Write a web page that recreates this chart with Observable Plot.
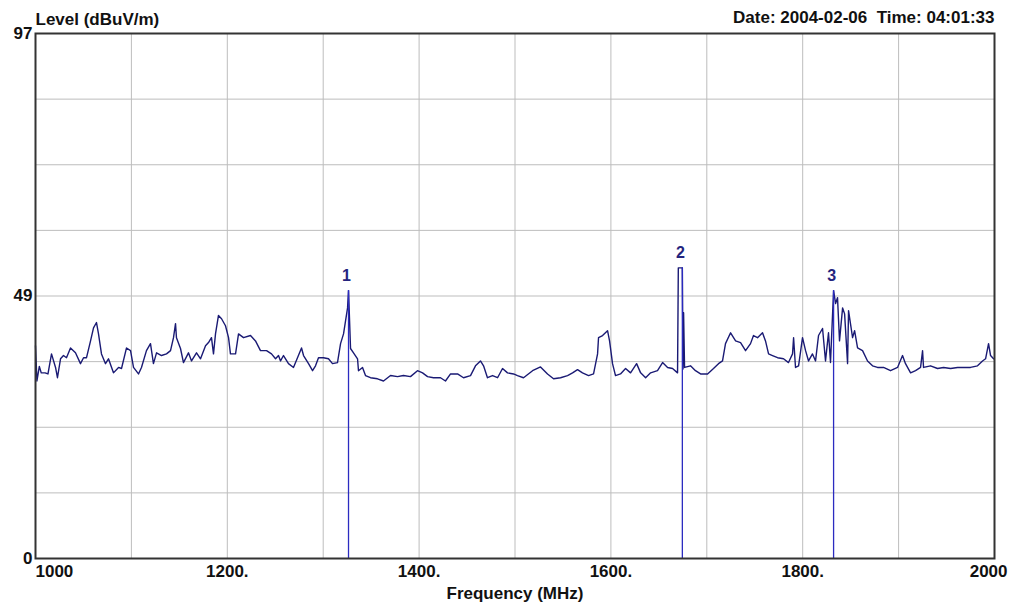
<!DOCTYPE html>
<html>
<head>
<meta charset="utf-8">
<script src="https://cdn.jsdelivr.net/npm/d3@7"></script>
<script src="https://cdn.jsdelivr.net/npm/@observablehq/plot@0.6"></script>
<style>
  html, body { margin: 0; padding: 0; background: #fff; }
  #chart svg { display: block; }
</style>
</head>
<body>
<div id="chart"></div>
<script>
// Spectrum scan trace: frequency (MHz) and measured level (dBuV/m)
const freqMHz = [
  1000, 1001.5, 1004, 1006, 1010, 1013, 1016.7, 1020.9, 1022.9, 1026.1,
  1029.2, 1032.3, 1036.5, 1041.7, 1046.9, 1050.1, 1053.2, 1057.4, 1060.5, 1063.6,
  1065.7, 1068.8, 1073.0, 1076.1, 1081.3, 1086.6, 1089.7, 1094.9, 1099.1, 1102.2,
  1107.4, 1110.5, 1115.7, 1119.9, 1123.0, 1126.2, 1131.4, 1136.6, 1140.8, 1143.9,
  1146.0, 1147.0, 1151.2, 1154.3, 1159.5, 1162.7, 1167.9, 1172.1, 1177.3, 1180.4,
  1183.5, 1185.6, 1187.7, 1190.8, 1194.0, 1198.1, 1201.3, 1203.3, 1208.6, 1211.7,
  1216.9, 1224.2, 1229.4, 1234.6, 1240.9, 1246.1, 1250.3, 1253.4, 1255.5, 1258.6,
  1263.8, 1269.0, 1273.2, 1277.4, 1279.5, 1284.7, 1288.9, 1292.0, 1295.1, 1300.3,
  1305.5, 1309.7, 1314.9, 1318.1, 1321.2, 1323.3, 1325.4, 1326.4, 1328.5, 1331.6,
  1335.8, 1336.8, 1341.0, 1344.1, 1349.3, 1356.6, 1362.9, 1370.2, 1377.5, 1383.7,
  1391.0, 1398.3, 1403.6, 1408.8, 1415.0, 1422.3, 1427.5, 1432.8, 1440.1, 1446.3,
  1453.6, 1458.8, 1464.0, 1467.2, 1471.3, 1476.6, 1481.8, 1487.0, 1492.2, 1498.5,
  1502.6, 1508.9, 1518.3, 1526.6, 1533.9, 1540.2, 1547.5, 1554.8, 1560.0, 1565.2,
  1570.4, 1576.7, 1581.9, 1586.1, 1587.1, 1591.3, 1596.5, 1598.6, 1601.7, 1604.8,
  1610.0, 1615.3, 1620.5, 1626.8, 1631.0, 1636.2, 1641.4, 1648.6, 1653.9, 1659.1,
  1664.3, 1669.5, 1670.3, 1674.5, 1675.2, 1675.8, 1676.8, 1683.0, 1688.2, 1693.5,
  1700.8, 1707.0, 1712.2, 1716.4, 1719.5, 1724.8, 1730.0, 1735.2, 1740.4, 1745.6,
  1748.7, 1752.9, 1758.1, 1761.2, 1764.4, 1768.5, 1773.8, 1780.0, 1785.2, 1789.4,
  1790.5, 1792.5, 1795.7, 1799.8, 1803.0, 1806.1, 1810.2, 1813.4, 1816.5, 1820.7,
  1823.8, 1826.9, 1829.0, 1832.2, 1834.3, 1836.3, 1838.4, 1841.6, 1843.7, 1846.8,
  1847.8, 1852.0, 1854.1, 1857.2, 1862.4, 1867.6, 1872.8, 1878.0, 1884.3, 1891.6,
  1898.9, 1904.1, 1907.2, 1912.5, 1917.7, 1922.9, 1925.0, 1926.0, 1933.3, 1940.6,
  1946.9, 1954.2, 1961.5, 1967.7, 1975.0, 1982.3, 1987.5, 1990.7, 1993.8, 1995.9,
  1999.0
];
const levelDb = [
  39.3, 32.8, 35.5, 34.3, 34.3, 34.1, 37.8, 35.3, 33.4, 36.9,
  37.5, 37.1, 38.9, 38.0, 36.0, 37.1, 37.1, 40.2, 42.6, 43.6,
  41.5, 37.8, 36.0, 36.9, 34.3, 35.3, 35.1, 38.9, 38.4, 35.3,
  34.1, 35.3, 38.4, 39.7, 36.0, 38.0, 37.5, 37.8, 38.4, 40.8,
  43.4, 40.8, 38.8, 36.2, 38.0, 36.5, 38.0, 36.9, 39.3, 39.9,
  40.8, 37.8, 41.5, 44.9, 44.3, 43.0, 40.8, 37.8, 37.8, 41.5,
  40.8, 41.2, 40.2, 38.4, 38.4, 37.8, 36.9, 37.5, 36.5, 37.5,
  36.0, 35.3, 37.1, 38.9, 37.5, 36.0, 34.7, 35.6, 37.1, 37.1,
  36.9, 36.0, 36.2, 39.7, 41.5, 43.9, 46.3, 49.5, 38.8, 38.0,
  36.9, 34.7, 35.3, 33.8, 33.4, 33.2, 32.8, 33.8, 33.6, 33.8,
  33.6, 34.7, 34.3, 33.6, 33.4, 33.4, 32.8, 34.1, 34.1, 33.4,
  33.8, 35.6, 36.5, 35.6, 33.4, 33.8, 33.4, 35.1, 34.3, 34.1,
  33.8, 33.4, 34.7, 35.4, 34.1, 33.2, 33.4, 33.8, 34.3, 34.9,
  34.3, 33.8, 34.1, 37.8, 40.8, 41.2, 42.1, 40.2, 36.0, 33.8,
  34.1, 35.1, 34.3, 36.0, 34.3, 33.4, 34.3, 34.7, 36.2, 35.3,
  35.1, 34.3, 53.7, 53.7, 35.0, 45.4, 35.3, 35.6, 34.7, 34.1,
  34.1, 35.1, 36.0, 36.5, 39.7, 41.7, 40.2, 39.9, 38.4, 39.7,
  41.2, 40.8, 41.7, 40.2, 37.8, 37.5, 37.1, 36.9, 36.2, 37.8,
  40.8, 35.3, 35.6, 40.8, 38.4, 36.5, 37.8, 36.5, 41.2, 42.5,
  36.5, 41.7, 36.2, 49.5, 47.1, 48.2, 40.2, 46.3, 45.2, 36.0,
  45.8, 40.8, 42.1, 38.9, 38.4, 36.5, 35.6, 35.3, 35.3, 34.7,
  35.3, 37.5, 36.0, 34.3, 34.7, 35.3, 38.4, 35.3, 35.6, 35.1,
  35.3, 35.1, 35.3, 35.3, 35.3, 35.6, 36.5, 36.9, 39.7, 37.5,
  36.9
];

// Numbered peak markers
const markerIds = ["1", "2", "3"];
const markerFreq = [1326.4, 1674.5, 1832.2];
const markerLevel = [49.5, 53.7, 49.5];

// Axis ticks and grid
const xTickValues = [1000, 1200, 1400, 1600, 1800, 2000];
const xTickLabels = ["1000", "1200.", "1400.", "1600.", "1800.", "2000"];
const xGridValues = [1100, 1200, 1300, 1400, 1500, 1600, 1700, 1800, 1900];
const yTickValues = [0, 48.5, 97];
const yTickLabels = ["0", "49", "97"];
const yGridValues = [12.125, 24.25, 36.375, 48.5, 60.625, 72.75, 84.875];

const titleText = "Level (dBuV/m)";
const stampText = "Date: 2004-02-06  Time: 04:01:33";
const xAxisTitle = "Frequency (MHz)";

const trace = freqMHz.map((f, i) => ({f, v: levelDb[i]}));
const markers = markerIds.map((n, i) => ({n, f: markerFreq[i], v: markerLevel[i]}));
const xLabels = xTickValues.map((t, i) => ({t, label: xTickLabels[i]}));
const yLabelOf = new Map(yTickValues.map((t, i) => [t, yTickLabels[i]]));

const gridStyle = {stroke: "#bdbdbd", strokeOpacity: 1, strokeWidth: 1};
const labelFont = {fontSize: 17, fontWeight: "bold", fill: "#111", lineAnchor: "middle"};

const chart = Plot.plot({
  width: 1011,
  height: 608,
  marginTop: 33,
  marginBottom: 50,
  marginLeft: 35,
  marginRight: 17,
  style: {
    fontFamily: "'Liberation Sans', Arial, sans-serif",
    fontWeight: "bold",
    fontSize: "17px",
    background: "#fff",
    color: "#111"
  },
  x: {domain: [1000, 2000], axis: null},
  y: {domain: [0, 97]},
  marks: [
    Plot.gridX(xGridValues, gridStyle),
    Plot.gridY(yGridValues, gridStyle),
    Plot.line(trace, {x: "f", y: "v", stroke: "#1a1a74", strokeWidth: 1.4}),
    Plot.ruleX(markers, {x: "f", y1: 0, y2: "v", stroke: "#2b2bc0", strokeWidth: 1.3}),
    Plot.text(markers, {
      x: "f", y: "v", text: "n", dy: -15, dx: -2,
      fill: "#24247e", fontSize: 16, fontWeight: "bold"
    }),
    Plot.frame({stroke: "#333", strokeWidth: 2}),
    Plot.axisY(yTickValues, {
      tickSize: 0, tickPadding: 3, label: null,
      tickFormat: d => yLabelOf.get(d), fontSize: 17, fontWeight: "bold", fill: "#111"
    }),
    // Frequency tick labels: first left-aligned, last right-aligned, rest centred
    Plot.text(xLabels.slice(0, 1), {
      x: "t", text: "label", frameAnchor: "bottom", dy: 13,
      textAnchor: "start", ...labelFont
    }),
    Plot.text(xLabels.slice(1, -1), {
      x: "t", text: "label", frameAnchor: "bottom", dy: 13,
      textAnchor: "middle", ...labelFont
    }),
    Plot.text(xLabels.slice(-1), {
      x: "t", text: "label", frameAnchor: "bottom", dy: 13, dx: 13,
      textAnchor: "end", ...labelFont
    }),
    Plot.text([xAxisTitle], {
      frameAnchor: "bottom", dy: 35, text: d => d, ...labelFont,
      letterSpacing: "1.2px"
    }),
    Plot.text([titleText], {
      frameAnchor: "top-left", dy: -14, text: d => d, textAnchor: "start",
      ...labelFont, letterSpacing: "1.3px"
    }),
    Plot.text([stampText], {
      frameAnchor: "top-right", dy: -16, text: d => d, textAnchor: "end",
      ...labelFont, letterSpacing: "0.7px"
    })
  ]
});

document.getElementById("chart").appendChild(chart);
</script>
</body>
</html>
